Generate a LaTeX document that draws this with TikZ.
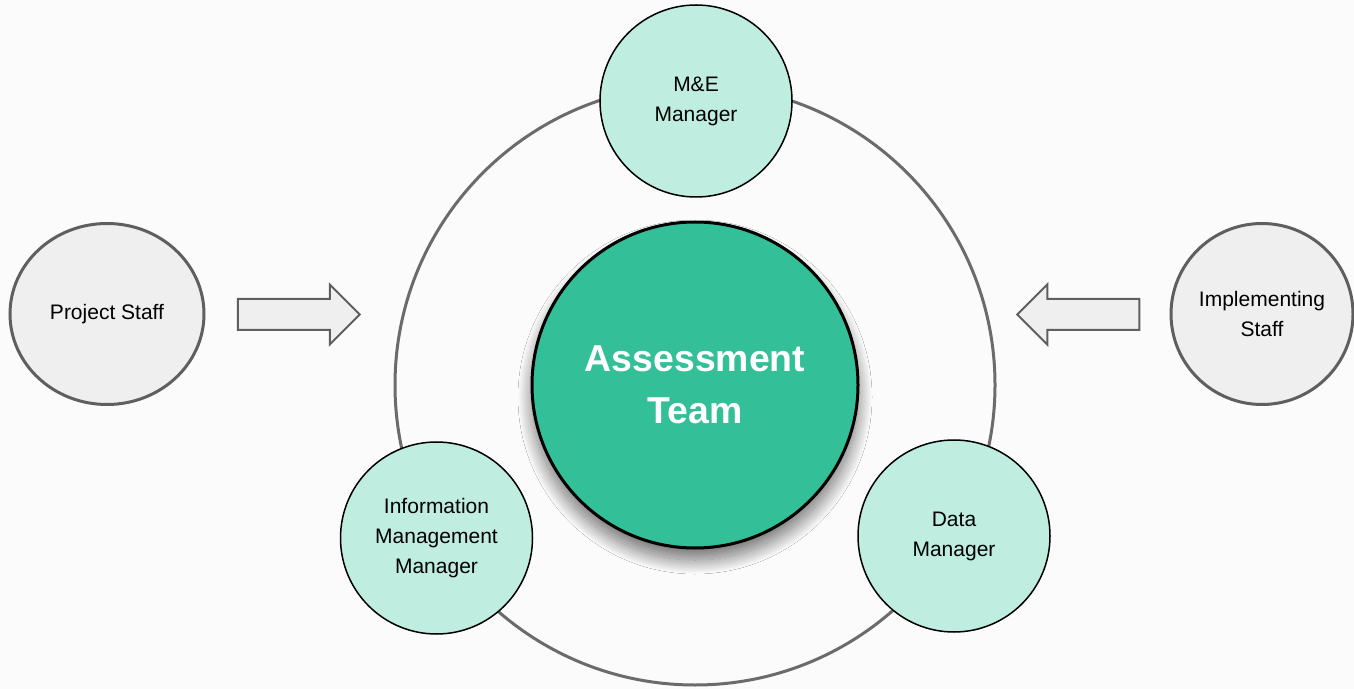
\documentclass[tikz,border=0pt]{standalone}
\usepackage{fontspec}
\setmainfont{Liberation Sans}
\usetikzlibrary{shapes.geometric, shapes.arrows, shadows.blur}

\definecolor{teamgreen}{HTML}{33BF98}
\definecolor{memberfill}{HTML}{BFEDDF}
\definecolor{stafffill}{HTML}{EFEFEF}
\definecolor{edgegray}{HTML}{5F5F5F}
\definecolor{ringgray}{HTML}{6B6B6B}
\definecolor{paper}{HTML}{FAFBFA}

\begin{document}
\begin{tikzpicture}[x=0.5pt, y=-0.5pt,
    team/.style={draw=black, line width=1.5pt, circle, fill=teamgreen, minimum size=163pt, text=white, align=center, font=\fontsize{18.7}{26}\selectfont\bfseries, blur shadow={shadow xshift=0pt, shadow yshift=-6pt, shadow blur radius=7pt, shadow blur steps=24, shadow opacity=55}},
    member/.style={draw=black, line width=0.75pt, circle, fill=memberfill, minimum size=96pt, align=center, font=\fontsize{10.5}{15}\selectfont},
    staff/.style={draw=edgegray, line width=1.5pt, ellipse, fill=stafffill, inner sep=0pt, minimum height=90.5pt, align=center, font=\fontsize{10.5}{15}\selectfont},
    flow/.style={single arrow, draw=edgegray, fill=stafffill, line width=1pt, inner xsep=0pt, inner ysep=7.25pt, minimum height=61pt, single arrow head extend=7.25pt}]
        \path[use as bounding box, fill=paper] (0,0) rectangle (1354,689);
        % ring round the team
        \coordinate (hub) at (695,385);
        \draw[ringgray, line width=1.5pt] (hub) circle[radius=150pt];
        \node[team] (team) at (hub) {Assessment\\Team};
        \node[member] (me) at (696,101) {M\&E\\Manager};
        \node[member] (info) at (436.5,538) {Information\\Management\\Manager};
        \node[member] (data) at (954,536) {Data\\Manager};
        % staff around
        \node[staff, minimum width=97pt] (project) at (107,314) {Project Staff};
        \node[staff, minimum width=91pt] (implementing) at (1262,314) {Implementing\\Staff};
        \node[flow] (push) at (291,314.5) {};
        \node[flow, shape border rotate=180] (pull) at (1086,314.5) {};
    \end{tikzpicture}
\end{document}
